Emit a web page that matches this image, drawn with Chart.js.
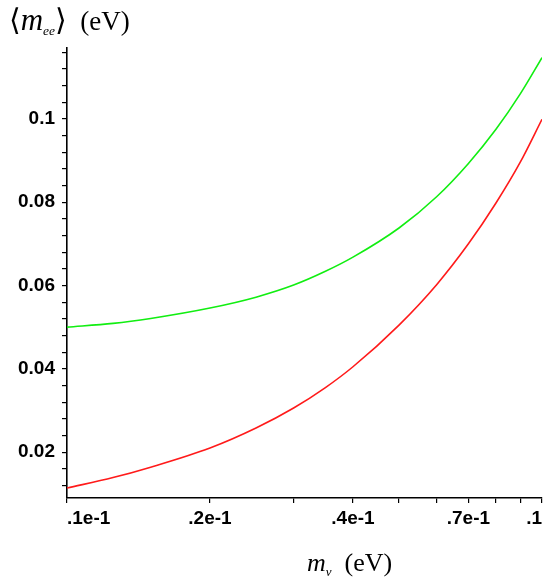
<!DOCTYPE html>
<html>
<head>
<meta charset="utf-8">
<script src="https://cdn.jsdelivr.net/npm/chart.js@4"></script>
<style>
  body { margin:0; background:#fff; }
  #wrap { position:relative; width:550px; height:585px; }
  .ttl { position:absolute; font-family:"Liberation Serif","DejaVu Serif",serif; color:#000; white-space:nowrap; line-height:1; }
  .ttl i { font-style:italic; }
  .ttl sub { font-size:0.5em; font-style:italic; vertical-align:-0.35em; }
  .br { font-family:"DejaVu Serif",serif; font-size:30px; }
</style>
</head>
<body>
<div id="wrap">
  <canvas id="chart" width="550" height="585"></canvas>
  <div class="ttl" style="left:9px;top:4px;font-size:27px;"><span class="br">⟨</span><i style="font-size:31px">m</i><sub>ee</sub><span class="br">⟩</span>&nbsp;&nbsp;(eV)</div>
  <div class="ttl" style="left:307px;top:550px;font-size:26px;"><i>m</i><sub>ν</sub>&nbsp;&nbsp;(eV)</div>
</div>
<script>
// ── Données ──
const massX  = [0.01, 0.0125, 0.015, 0.02, 0.025, 0.03, 0.035, 0.04, 0.05, 0.06, 0.07, 0.08, 0.09, 0.1];
const greenY = [0.0500, 0.0509, 0.0521, 0.0546, 0.0572, 0.0601, 0.0634, 0.0668, 0.0738, 0.0813, 0.0893, 0.0975, 0.1060, 0.1147];
const redY   = [0.0114, 0.0139, 0.0164, 0.0210, 0.0258, 0.0306, 0.0355, 0.0405, 0.0505, 0.0602, 0.0700, 0.0798, 0.0896, 0.0999];

// ── Graduations ──
const xTicks = [0.01, 0.02, 0.03, 0.04, 0.05, 0.06, 0.07, 0.08, 0.09, 0.1];
const xTickLabels = { 0.01:'.1e-1', 0.02:'.2e-1', 0.04:'.4e-1', 0.07:'.7e-1', 0.1:'.1' };
const yMajor = [0.02, 0.04, 0.06, 0.08, 0.1];
const yTickLabels = ['0.02', '0.04', '0.06', '0.08', '0.1'];
const yMinorStep = 0.004, yMinorFrom = 0.012, yMinorTo = 0.116;

const yTicks = [];
for (let v = yMinorFrom; v <= yMinorTo + 1e-9; v += yMinorStep) yTicks.push(Math.round(v*1000)/1000);

const pts = ys => massX.map((x, i) => ({ x, y: ys[i] }));
const tickFont = { family:'Liberation Sans', size:19, weight:'bold' };

new Chart(document.getElementById('chart').getContext('2d'), {
  type: 'line',
  data: {
    datasets: [
      { data: pts(greenY), borderColor:'#11ee11', borderWidth:1.6, pointRadius:0, cubicInterpolationMode:'monotone', fill:false },
      { data: pts(redY),   borderColor:'#ff1a1a', borderWidth:1.6, pointRadius:0, cubicInterpolationMode:'monotone', fill:false }
    ]
  },
  options: {
    responsive:false, animation:false,
    layout: { padding: { top:48, right:8, left:0, bottom:0 } },
    plugins: { legend:{ display:false }, tooltip:{ enabled:false } },
    scales: {
      x: {
        type:'logarithmic', min:0.01, max:0.1,
        border: { color:'#000', width:1.6 },
        grid: { drawOnChartArea:false, drawTicks:true, tickLength:5, color:'#000', lineWidth:1.2 },
        ticks: {
          font: tickFont, color:'#000', padding:4, align:'inner', maxRotation:0, autoSkip:false,
          callback: v => xTickLabels[Math.round(v*100)/100] || ''
        },
        afterBuildTicks: s => { s.ticks = xTicks.map(v => ({ value:v })); },
        afterFit: s => { s.height = 87; }
      },
      y: {
        type:'linear', min:0.009, max:0.117,
        border: { color:'#000', width:1.6 },
        grid: { drawOnChartArea:false, drawTicks:true, tickLength:5, color:'#000', lineWidth:1.2 },
        ticks: {
          font: tickFont, color:'#000', padding:7, autoSkip:false,
          callback: v => {
            const i = yMajor.findIndex(m => Math.abs(m - v) < 1e-6);
            return i >= 0 ? yTickLabels[i] : '';
          }
        },
        afterBuildTicks: s => { s.ticks = yTicks.map(v => ({ value:v })); },
        afterFit: s => { s.width = 67; }
      }
    }
  }
});
</script>
</body>
</html>
